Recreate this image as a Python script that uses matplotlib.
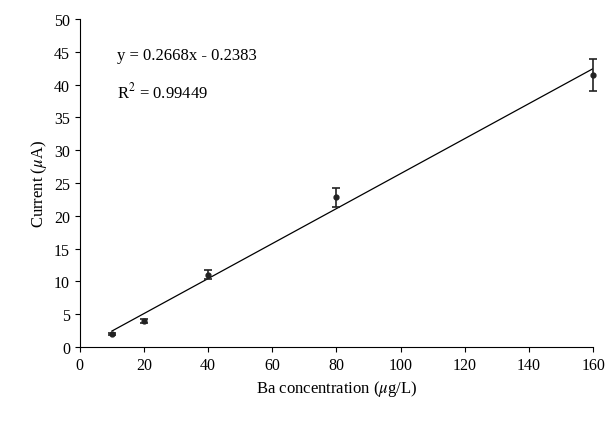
import matplotlib
matplotlib.use("Agg")
import matplotlib.pyplot as plt
import numpy as np

plt.rcParams["font.family"] = ["Liberation Serif", "DejaVu Serif"]
plt.rcParams["mathtext.fontset"] = "stix"

conc = [10, 20, 40, 80, 160]
current = [2.0, 4.0, 11.0, 22.8, 41.5]
errors = [0.2, 0.3, 0.7, 1.4, 2.4]
slope, intercept = 0.2668, -0.2383

fig = plt.figure(figsize=(6.09, 4.27), dpi=100)
ax = fig.add_axes([0.131, 0.185, 0.843, 0.768])

fit_x = np.array([conc[0], conc[-1]])
ax.plot(fit_x, slope * fit_x + intercept, color="black", lw=0.9)
eb = ax.errorbar(conc, current, yerr=errors, fmt="o", color="#222222", ms=3.5,
                 capsize=3, elinewidth=1.2, capthick=1.2)
for art in eb.lines[0:1] + tuple(eb.lines[1]) + tuple(eb.lines[2]):
    art.set_clip_on(False)

ax.set_xlim(0, 160)
ax.set_ylim(0, 50)
ax.set_xticks(range(0, 161, 20))
ax.set_yticks(range(0, 51, 5))
for s in ["top", "right"]:
    ax.spines[s].set_visible(False)
ax.tick_params(direction="out", labelsize=11.5)
ax.set_xlabel(r"Ba concentration ($\mu$g/L)", fontsize=12)
ax.set_ylabel(r"Current ($\mu$A)", fontsize=12)

ax.text(11.5, 44.5, "y = 0.2668x - 0.2383", fontsize=12, va="center")
ax.text(11.5, 39.0, r"R$^2$ = 0.99449", fontsize=12, va="center")

fig.savefig("out.png", dpi=100)
